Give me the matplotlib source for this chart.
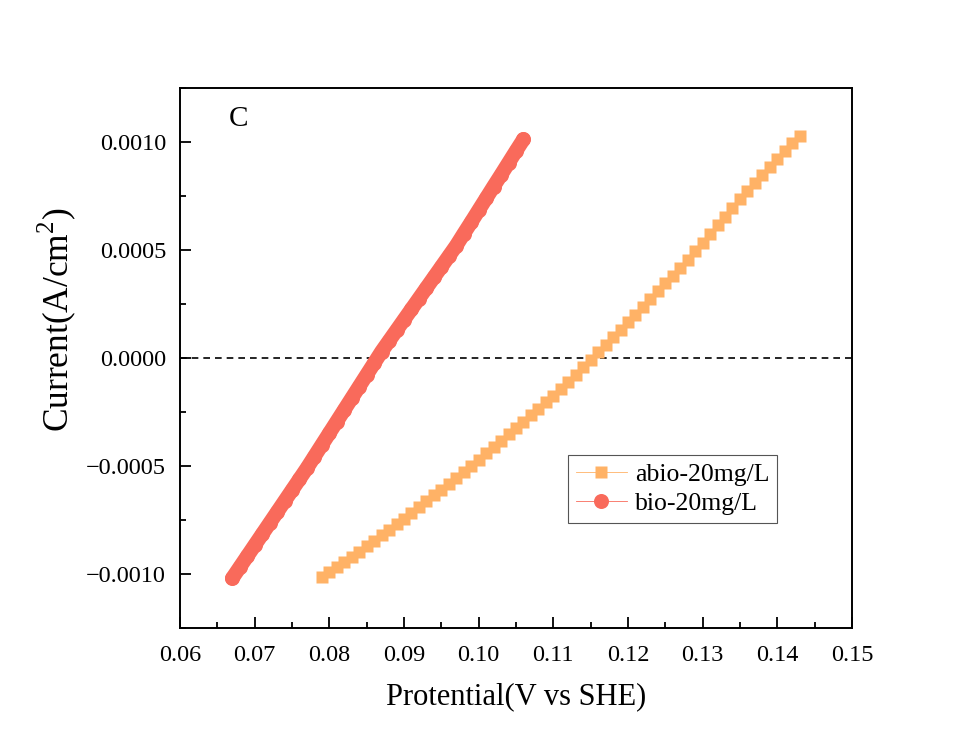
import numpy as np
import matplotlib
matplotlib.use('Agg')
import matplotlib.pyplot as plt
from matplotlib.ticker import MultipleLocator, FuncFormatter
from matplotlib.lines import Line2D

plt.rcParams['font.family'] = ['Liberation Serif', 'DejaVu Serif']
plt.rcParams['mathtext.fontset'] = 'custom'
plt.rcParams['mathtext.rm'] = 'Liberation Serif'

# abio-20mg/L : potential (V vs SHE) and current (mA/cm2, scaled below)
abio_x = [0.079, 0.080, 0.081, 0.082, 0.083, 0.084, 0.085, 0.086, 0.087, 0.088,
          0.089, 0.090, 0.091, 0.092, 0.093, 0.094, 0.095, 0.096, 0.097, 0.098,
          0.099, 0.100, 0.101, 0.102, 0.103, 0.104, 0.105, 0.106, 0.107, 0.108,
          0.109, 0.110, 0.111, 0.112, 0.113, 0.114, 0.115, 0.116, 0.117, 0.118,
          0.119, 0.120, 0.121, 0.122, 0.123, 0.124, 0.125, 0.126, 0.127, 0.128,
          0.129, 0.130, 0.131, 0.132, 0.133, 0.134, 0.135, 0.136, 0.137, 0.138,
          0.139, 0.140, 0.141, 0.142, 0.143]
abio_y = [-1.012, -0.990, -0.967, -0.944, -0.920, -0.896, -0.871, -0.846, -0.821, -0.795,
          -0.769, -0.743, -0.717, -0.690, -0.663, -0.636, -0.609, -0.582, -0.555, -0.528,
          -0.499, -0.470, -0.441, -0.412, -0.383, -0.354, -0.325, -0.296, -0.266, -0.236,
          -0.205, -0.174, -0.142, -0.110, -0.077, -0.043, -0.009, 0.026, 0.061, 0.096,
          0.131, 0.166, 0.201, 0.236, 0.272, 0.308, 0.345, 0.382, 0.419, 0.456,
          0.494, 0.534, 0.574, 0.614, 0.654, 0.694, 0.734, 0.774, 0.812, 0.849,
          0.886, 0.922, 0.958, 0.994, 1.030]

# bio-20mg/L
bio_x = [0.067, 0.068, 0.069, 0.070, 0.071, 0.072, 0.073, 0.074, 0.075, 0.076,
         0.077, 0.078, 0.079, 0.080, 0.081, 0.082, 0.083, 0.084, 0.085, 0.086,
         0.087, 0.088, 0.089, 0.090, 0.091, 0.092, 0.093, 0.094, 0.095, 0.096,
         0.097, 0.098, 0.099, 0.100, 0.101, 0.102, 0.103, 0.104, 0.105, 0.106]
bio_y = [-1.020, -0.969, -0.918, -0.867, -0.816, -0.765, -0.714, -0.663, -0.612, -0.561,
         -0.510, -0.456, -0.402, -0.348, -0.294, -0.240, -0.186, -0.132, -0.078, -0.024,
         0.030, 0.079, 0.128, 0.177, 0.226, 0.275, 0.324, 0.373, 0.422, 0.471,
         0.520, 0.575, 0.629, 0.684, 0.739, 0.794, 0.848, 0.903, 0.958, 1.012]

abio_y = np.array(abio_y) * 1e-3
bio_y = np.array(bio_y) * 1e-3

c_abio = '#FFB266'
c_bio = '#F96A5B'

fig = plt.figure(figsize=(9.74, 7.49), dpi=100)
ax = fig.add_axes([0.1848, 0.1615, 0.6899, 0.721])

ax.axhline(0, color='black', ls=(0, (4, 3)), lw=1.2, zorder=1)
ax.plot(abio_x, abio_y, color=c_abio, lw=0.6, marker='s', ms=8.3,
        mec='none', zorder=2)
# dense circles merge into a thick band
ax.plot(bio_x, bio_y, color=c_bio, lw=10.5, solid_capstyle='round',
        solid_joinstyle='round', marker='o', ms=10.8, mec='none', zorder=3)

ax.set_xlim(0.06, 0.15)
ax.set_ylim(-0.00125, 0.00125)
ax.xaxis.set_major_locator(MultipleLocator(0.01))
ax.xaxis.set_minor_locator(MultipleLocator(0.005))
ax.yaxis.set_major_locator(MultipleLocator(0.0005))
ax.yaxis.set_minor_locator(MultipleLocator(0.00025))
ax.xaxis.set_major_formatter(FuncFormatter(lambda v, p: f'{v:.2f}'))
ax.yaxis.set_major_formatter(FuncFormatter(lambda v, p: f'{v:.4f}'.replace('-', '\u2212')))

ax.tick_params(which='both', direction='in', labelsize=17.5, width=1.3,
               top=False, right=False)
ax.tick_params(which='major', length=8)
ax.tick_params(which='minor', length=4)
ax.tick_params(axis='y', which='major', pad=10)
ax.tick_params(axis='x', which='major', pad=12)
for s in ax.spines.values():
    s.set_linewidth(1.4)

ax.set_xlabel('Protential(V vs SHE)', fontsize=22, labelpad=12)
ax.set_ylabel('Current(A/cm$^\\mathrm{2}$)', fontsize=25.5)
ax.yaxis.set_label_coords(-0.152, 0.57)
ax.text(0.072, 0.942, 'C', transform=ax.transAxes, fontsize=21, va='center')

handles = [Line2D([], [], color=c_abio, lw=0.6, marker='s', ms=8.3, mec='none'),
           Line2D([], [], color=c_bio, lw=0.6, marker='o', ms=10.8, mec='none')]
leg = ax.legend(handles, ['abio-20mg/L', 'bio-20mg/L'], loc='upper left',
                bbox_to_anchor=(0.5774, 0.3204), fontsize=18.5,
                fancybox=False, framealpha=1, edgecolor='#555555',
                handlelength=2.0, borderpad=0.3, labelspacing=0.25,
                handletextpad=0.3, borderaxespad=0)
leg.get_frame().set_linewidth(0.8)

fig.savefig('out.png', dpi=100)
